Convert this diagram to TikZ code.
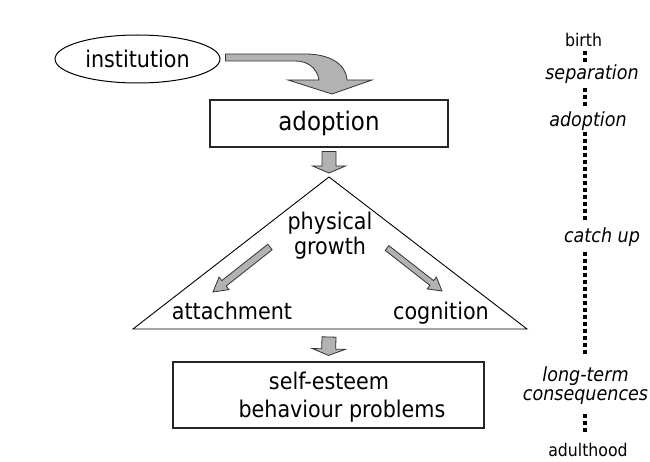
\documentclass[tikz,border=0pt]{standalone}
\usepackage{fontspec}
\setmainfont{DejaVu Sans Condensed}
\usetikzlibrary{shapes.geometric,calc}
\newcommand\blockarrow[6][]{%
  \coordinate (bah) at ($(#3)!#6!(#2)$);
  \filldraw[#1] ($(#2)!#4!90:(#3)$) -- ($(bah)!#4!-90:(#2)$) -- ($(bah)!#5!-90:(#2)$) -- (#3) -- ($(bah)!#5!90:(#2)$) -- ($(bah)!#4!90:(#2)$) -- ($(#2)!#4!-90:(#3)$) -- cycle;}
\begin{document}
\begin{tikzpicture}[x=1pt,y=-1pt,
  box/.style={draw=black!85, line width=1.1pt, inner sep=0pt},
  txt/.style={font=\fontsize{23}{25}\selectfont, inner sep=0pt},
  garrow/.style={fill=black!30, draw=black!80, line width=0.8pt, line join=miter},
  tlu/.style={font=\fontsize{17.5}{19}\selectfont, inner sep=0pt},
  tli/.style={font=\fontsize{19.5}{19}\selectfont\itshape, inner sep=0pt},
  tdots/.style={line width=4pt, dash pattern=on 4pt off 3pt, black}]

\fill[white] (0,0) rectangle (650,462);
\path[use as bounding box] (0,0) rectangle (650,462);

% institution
\node[ellipse, draw, line width=1pt, minimum width=165pt, minimum height=48pt, inner sep=0pt, txt] (inst) at (137.5,59) {institution};

% adoption box
\node[box, minimum width=238pt, minimum height=47pt, font=\fontsize{25.5}{28}\selectfont] (adopt) at (329,123.5) {adoption};

% curved arrow
\filldraw[garrow] ($(inst.east)+(5,-5)$) -- (305,54) .. controls (330,54) and (346,64) .. (347,80) -- (372,80) -- (332,94) -- (288,80) -- (319,80) .. controls (317,68) and (308,61) .. (295,61) -- ($(inst.east)+(5,2)$) -- cycle;

% triangle
\coordinate (apex) at (329,177);
\coordinate (tbl) at (133,329);
\coordinate (tbr) at (527,329);
\draw[line width=0.9pt, line join=miter] (apex) -- (tbr) -- (tbl) -- cycle;

\node[txt, align=center] (phys) at (330,236) {physical\\growth};
\node[txt] (attach) at (232,311) {attachment};
\node[txt] (cogn) at (441,313) {cognition};

% bottom box
\node[box, minimum width=311pt, minimum height=66pt] (bottom) at (328.5,395) {};
\node[inner sep=0pt, align=center, font=\fontsize{23}{28}\selectfont] (bottomtxt) at (342,397) {self-esteem\hspace*{26pt}\\behaviour problems};

% small arrows
\coordinate (d1a) at ($(adopt.south)+(0,4)$);
\coordinate (d1b) at ($(apex)+(0,-4)$);
\blockarrow[garrow]{d1a}{d1b}{7pt}{16.5pt}{7pt}
\coordinate (d2a) at ($(apex|-tbl)+(0,8)$);
\coordinate (d2b) at ($(bottom.north)+(0,-6)$);
\blockarrow[garrow]{d2a}{d2b}{7pt}{16.5pt}{6.5pt}

% diagonal arrows
\coordinate (la) at (270,247);
\coordinate (lb) at (213,292);
\blockarrow[garrow]{la}{lb}{3.5pt}{8pt}{14pt}
\coordinate (ra) at (387,248);
\coordinate (rb) at (442,291);
\blockarrow[garrow]{ra}{rb}{3pt}{7.5pt}{13pt}

% timeline
\node[tlu, anchor=base] (birth) at (583.5,47) {birth};
\node[tli, anchor=base] (sep) at (592,80) {separation};
\node[tli, anchor=base] (tadopt) at (588,127) {adoption};
\node[tli, anchor=base] (catch) at (602,243) {catch up};
\node[tli, align=center] (lt) at (585.5,385.5) {long-term\\consequences};
\node[tlu, anchor=base] (adult) at (588,456.5) {adulthood};

\draw[tdots] (585,51) -- (585,62);
\draw[tdots] (585,88) -- (585,106);
\draw[tdots] (585,132) -- (585,220);
\draw[tdots] (585,252) -- (585,354);
\draw[tdots] (585,414) -- (585,432);
\end{tikzpicture}
\end{document}
